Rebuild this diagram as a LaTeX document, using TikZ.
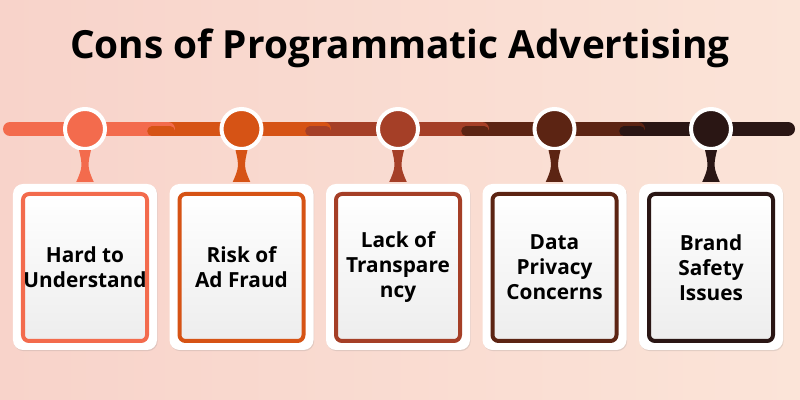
\documentclass[tikz,border=0pt]{standalone}
\usepackage{fontspec}
\setmainfont{Open Sans}
\usetikzlibrary{calc,shadows}
\definecolor{bgpink}{HTML}{F8D3CA}
\definecolor{bgpeach}{HTML}{FBE4D8}
\definecolor{consA}{HTML}{F36B4D}
\definecolor{consB}{HTML}{D65315}
\definecolor{consC}{HTML}{A53F27}
\definecolor{consD}{HTML}{5C2413}
\definecolor{consE}{HTML}{2A1614}
\definecolor{cardgray}{HTML}{EDEDED}

\tikzset{
  dot/.style={circle,minimum size=1cm,inner sep=0pt,draw=white,line width=0.1cm,
    drop shadow={shadow xshift=0.3pt,shadow yshift=-0.6pt,opacity=0.25}},
  card/.style={rectangle,rounded corners=0.15cm,line width=0.1cm,
    minimum width=3.1cm,minimum height=3.675cm,inner sep=0pt,
    top color=white,bottom color=cardgray,align=center,
    font=\fontsize{14.8}{17.8}\selectfont\bfseries},
  bar/.style={line width=0.35cm,line cap=round},
  tab/.style={line width=0.24cm,line cap=round}
}

\begin{document}
\begin{tikzpicture}
  % background
  \shade[left color=bgpink,right color=bgpeach] (0,0) rectangle (20,10);
  \useasboundingbox (0,0) rectangle (20,10);

  \node[font=\fontsize{27.6}{32}\selectfont\bfseries] (title) at (10,8.78)
       {Cons of Programmatic Advertising};

  % timeline segments, right to left so each one overlaps the next
  \draw[bar,consE] (15.6,6.775) -- (19.7,6.775);
  \draw[bar,consD] (11.65,6.775) -- (15.95,6.775);
  \draw[bar,consC] (7.75,6.775) -- (12.05,6.775);
  \draw[bar,consB] (3.8,6.775) -- (8.1,6.775);
  \draw[bar,consA] (0.25,6.775) -- (4.2,6.775);
  % tabs where one segment runs under the last
  \foreach \s/\e/\col in {3.8/4.2/consB,7.75/8.1/consC,11.65/12.05/consD,15.6/15.95/consE}
    \draw[tab,\col] (\s,6.72) -- (\e+0.055,6.72);

  \foreach \i/\col/\txt in {1/consA/{Hard to\\Understand},
                            2/consB/{Risk of\\Ad Fraud},
                            3/consC/{Lack of\\Transpare\\ncy},
                            4/consD/{Data\\Privacy\\Concerns},
                            5/consE/{Brand\\Safety\\Issues}}{
    \pgfmathsetmacro{\xx}{2.125+3.9125*(\i-1)}
    % white frame
    \fill[white,rounded corners=0.25cm,
          drop shadow={shadow xshift=0.5pt,shadow yshift=-0.8pt,opacity=0.2}]
         (\xx-1.8,1.25) rectangle (\xx+1.8,5.4);
    \node[card,draw=\col] (card\i) at (\xx,3.3125) {\txt};
    \node[dot,fill=\col] (dot\i) at (\xx,6.775) {};
    % stem
    \fill[\col] ($(dot\i.south)+(-0.15,0.02)$)
       .. controls ($(dot\i.south)+(-0.06,-0.35)$) and ($(card\i.north)+(-0.06,0.6)$)
       .. ($(card\i.north)+(-0.22,0.25)$)
       -- ($(card\i.north)+(0.22,0.25)$)
       .. controls ($(card\i.north)+(0.06,0.6)$) and ($(dot\i.south)+(0.06,-0.35)$)
       .. ($(dot\i.south)+(0.15,0.02)$) -- cycle;
  }
\end{tikzpicture}
\end{document}
